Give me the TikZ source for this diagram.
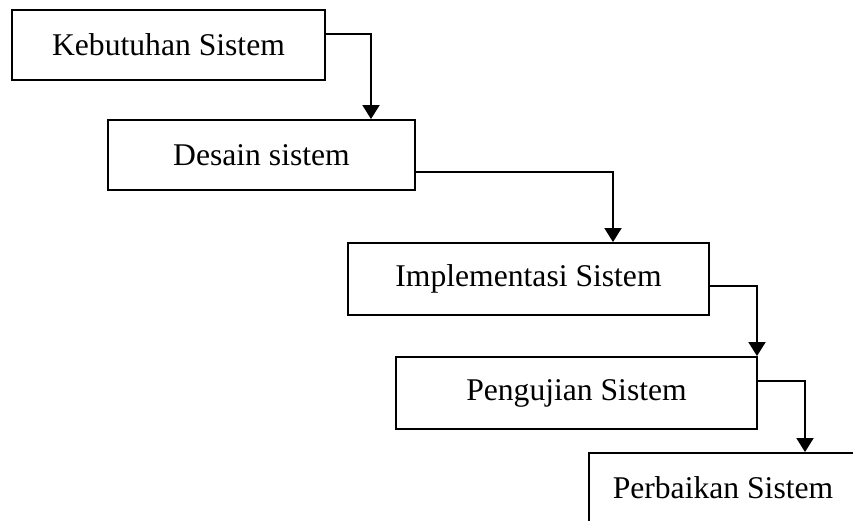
\documentclass[tikz,border=0pt]{standalone}
\usepackage{fontspec}
\setmainfont{Liberation Serif}
\usetikzlibrary{arrows.meta}
\begin{document}
\begin{tikzpicture}[x=0.02cm,y=-0.02cm,
    box/.style={draw,line width=1.1pt,inner sep=0pt,font=\fontsize{18}{22}\selectfont},
    flow/.style={line width=1.1pt,-{Triangle[length=0.28cm,width=0.34cm]}}]
      \useasboundingbox (0,0) rectangle (853,521);
      \clip (0,0) rectangle (853,521);
      \draw
        (168.5,45) node[box,minimum width=6.26cm,minimum height=1.4cm] (kebutuhan){Kebutuhan Sistem}
        (261.5,155) node[box,minimum width=6.14cm,minimum height=1.4cm] (desain){Desain sistem}
        (528.5,279) node[box,minimum width=7.22cm,minimum height=1.44cm] (implementasi){Implementasi Sistem}
        (576.5,393) node[box,minimum width=7.22cm,minimum height=1.44cm] (pengujian){Pengujian Sistem}
        (723,488) node[box,minimum width=5.36cm,minimum height=1.4cm] (perbaikan){Perbaikan Sistem};
      \coordinate (bend1) at (371,34);
      \coordinate (bend2) at (613,172);
      \coordinate (bend3) at (757,286);
      \coordinate (bend4) at (805,381);
      \begin{scope}[flow]
        \draw (kebutuhan.east |- bend1) -- (bend1) -- (bend1 |- desain.north);
        \draw (desain.east |- bend2) -- (bend2) -- (bend2 |- implementasi.north);
        \draw (implementasi.east |- bend3) -- (bend3) -- (bend3 |- pengujian.north);
        \draw (pengujian.east |- bend4) -- (bend4) -- (bend4 |- perbaikan.north);
      \end{scope}
    \end{tikzpicture}
\end{document}
